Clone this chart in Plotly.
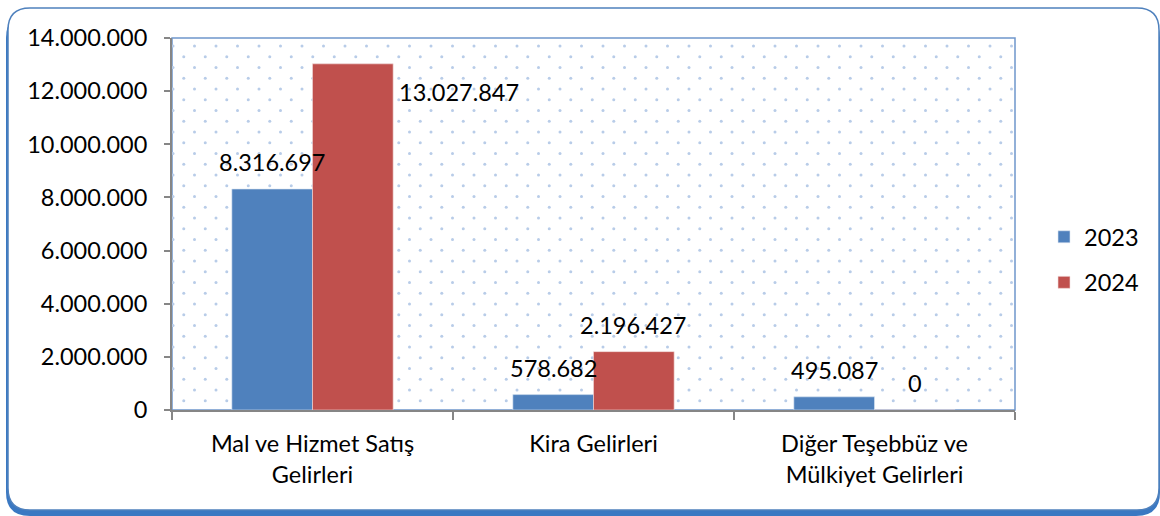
import numpy as np
import plotly.graph_objects as go

categories = ["Mal ve Hizmet Satış<br>Gelirleri", "Kira Gelirleri", "Diğer Teşebbüz ve<br>Mülkiyet Gelirleri"]
years = ["2023", "2024"]
values_2023 = [8316697, 578682, 495087]
values_2024 = [13027847, 2196427, 0]
y_ticks = [0, 2000000, 4000000, 6000000, 8000000, 10000000, 12000000, 14000000]

W, H = 1160, 516
ML, MR, MT, MB = 172, 145, 38, 106
PW, PH = W - ML - MR, H - MT - MB
FONT = "Lato"
FS = 23.5


def fmt(v):
    return f"{v:,}".replace(",", ".")


def px_x(p):
    return (p - ML) / PW


def px_y(p):
    return (H - MB - p) / PH


def rounded(x0, y0, x1, y1, r):
    # rounded rectangle path in paper coords, given pixel corners
    X = px_x
    Y = px_y
    return (f"M {X(x0 + r)} {Y(y0)} L {X(x1 - r)} {Y(y0)} Q {X(x1)} {Y(y0)} {X(x1)} {Y(y0 + r)} "
            f"L {X(x1)} {Y(y1 - r)} Q {X(x1)} {Y(y1)} {X(x1 - r)} {Y(y1)} "
            f"L {X(x0 + r)} {Y(y1)} Q {X(x0)} {Y(y1)} {X(x0)} {Y(y1 - r)} "
            f"L {X(x0)} {Y(y0 + r)} Q {X(x0)} {Y(y0)} {X(x0 + r)} {Y(y0)} Z")


fig = go.Figure()

# dotted background texture of the plot area (base axes, drawn under the bars)
step = 10.75
xs, ys = [], []
for j, py in enumerate(np.arange(MT + 8, H - MB - 2, step)):
    off = 0 if j % 2 == 0 else step
    for px in np.arange(ML + 1 + off, ML + PW - 2, 2 * step):
        xs.append((px - ML) / PW)
        ys.append((H - MB - py) / PH)
fig.add_trace(go.Scatter(x=xs, y=ys, mode="markers", marker=dict(size=3, color="#B8CCE8"),
                         hoverinfo="skip", showlegend=False))

xpos = list(range(len(categories)))
fig.add_trace(go.Bar(x=xpos, y=values_2023, name=years[0], legendgroup=years[0], xaxis="x2", yaxis="y2",
                     marker=dict(color="#4F81BD", line=dict(color="#DCE6F2", width=0.6))))
fig.add_trace(go.Bar(x=xpos, y=values_2024, name=years[1], legendgroup=years[1], xaxis="x2", yaxis="y2",
                     marker=dict(color="#C0504D", line=dict(color="#F2DCDB", width=0.6))))

half = 0.1435
ann = []
for i, v in enumerate(values_2023):
    ann.append(dict(x=i - half, y=v, text=fmt(v), yshift=27))
for i, v in enumerate(values_2024):
    if v > 12e6:
        ann.append(dict(x=i + 2 * half, y=v, text=fmt(v), xanchor="left", xshift=4, yshift=-28))
    else:
        ann.append(dict(x=i + half, y=v, text=fmt(v), yshift=27))
for a in ann:
    a.update(xref="x2", yref="y2", showarrow=False, yanchor="middle",
             font=dict(family=FONT, size=FS, color="#000000"))
    a.setdefault("xanchor", "center")

shapes = [
    dict(type="path", xref="paper", yref="paper", path=rounded(6, 14, 1160, 516, 24),
         fillcolor="#3A78C2", line=dict(width=0), layer="below"),
    dict(type="path", xref="paper", yref="paper", path=rounded(8, 8, 1159, 510, 22),
         fillcolor="#FFFFFF", line=dict(color="#4F81BD", width=1.5), layer="below"),
    dict(type="rect", xref="paper", yref="paper", x0=0, x1=1, y0=0, y1=1,
         line=dict(color="#6F96CC", width=1.5), layer="below"),
]

fig.update_layout(
    width=W, height=H,
    margin=dict(l=ML, r=MR, t=MT, b=MB),
    paper_bgcolor="rgba(0,0,0,0)", plot_bgcolor="rgba(0,0,0,0)",
    separators=",.",
    barmode="group", bargap=0.426, bargroupgap=0,
    font=dict(family=FONT, size=FS, color="#000000"),
    shapes=shapes, annotations=ann,
    legend=dict(x=px_x(1044), y=px_y(260), xanchor="left", yanchor="middle", traceorder="grouped",
                tracegroupgap=12, font=dict(size=FS), bgcolor="rgba(0,0,0,0)"),
    xaxis=dict(range=[0, 1], visible=False, fixedrange=True),
    yaxis=dict(range=[0, 1], visible=False, fixedrange=True),
    xaxis2=dict(overlaying="x", range=[-0.5, 2.5], tickvals=xpos, ticktext=categories, ticks="",
                showline=True, linecolor="#868686", linewidth=2, showgrid=False, zeroline=False,
                ticklabelstandoff=12,
                minor=dict(tickvals=[-0.5, 0.5, 1.5, 2.5], ticks="outside", ticklen=8,
                           tickcolor="#868686", tickwidth=2)),
    yaxis2=dict(overlaying="y", range=[0, 14e6], tickvals=y_ticks, tickformat=",d", ticks="outside",
                ticklen=6, tickcolor="#868686", tickwidth=2, showline=True, linecolor="#868686",
                linewidth=2, showgrid=False, zeroline=False, ticklabelstandoff=12),
)

fig.write_html("out.html", config={"displayModeBar": False},
               post_script="document.body.style.margin='0';document.body.style.overflow='hidden';")
